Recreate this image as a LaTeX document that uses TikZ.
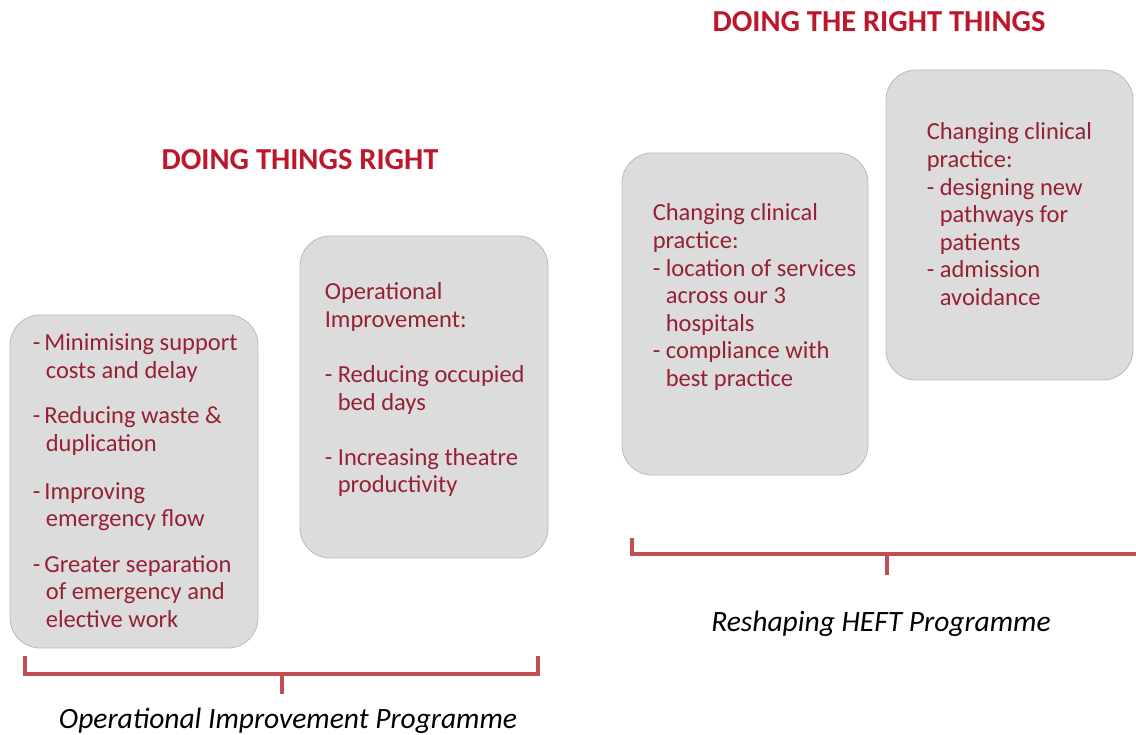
\documentclass[tikz,border=0pt]{standalone}
\usepackage{fontspec}
\setmainfont{Carlito}
\definecolor{TitleRed}{RGB}{190, 22, 42}
\definecolor{ItemMaroon}{RGB}{150, 32, 52}
\definecolor{BracketRed}{RGB}{194, 78, 84}
\definecolor{PanelGrey}{RGB}{220, 220, 220}
\definecolor{PanelEdge}{RGB}{186, 186, 186}
\usetikzlibrary{positioning}
\newcommand{\indnt}{\phantom{- }}

\tikzset{
  panel/.style={draw=PanelEdge, fill=PanelGrey, rounded corners=30pt,
                line width=0.8pt, inner sep=0pt},
  paneltext/.style={text=ItemMaroon, font=\fontsize{24.5}{27.6}\selectfont,
                    align=left, inner sep=0pt},
  heading/.style={text=TitleRed, font=\fontsize{30.5}{34}\selectfont\bfseries},
  progname/.style={font=\fontsize{29.5}{32}\selectfont\itshape},
  bracket/.style={draw=BracketRed, line width=3.6pt}
}

\begin{document}
\begin{tikzpicture}[x=1pt, y=-1pt]
  \useasboundingbox (0,0) rectangle (1136,735);

  % headings
  \node[heading] (rightthings) at (879,22) {DOING THE RIGHT THINGS};
  \node[heading] (thingsright) at (300,160) {DOING THINGS RIGHT};

  % panels
  \node[panel, minimum width=248pt, minimum height=333pt] (support) at (134,481.5) {};
  \node[panel, minimum width=248pt, minimum height=322pt] (opimp) at (424,397) {};
  \node[panel, minimum width=246pt, minimum height=322pt] (location) at (745,314) {};
  \node[panel, minimum width=247pt, minimum height=310pt] (pathways) at (1009.5,225) {};

  \node[paneltext, below right=19pt and 23pt of support.north west] (supporttext) {
    -\,Minimising support\\
    \indnt costs and delay\\[18pt]
    -\,Reducing waste \&\\
    \indnt duplication\\[20pt]
    -\,Improving\\
    \indnt emergency flow\\[18pt]
    -\,Greater separation\\
    \indnt of emergency and\\
    \indnt elective work
  };
  \node[paneltext, below right=47pt and 25pt of opimp.north west] (opimptext) {
    Operational\\
    Improvement:\\[27.5pt]
    - Reducing occupied\\
    \indnt bed days\\[27.5pt]
    - Increasing theatre\\
    \indnt productivity
  };
  \node[paneltext, below right=51pt and 31pt of location.north west] (locationtext) {
    Changing clinical\\
    practice:\\
    - location of services\\
    \indnt across our 3\\
    \indnt hospitals\\
    - compliance with\\
    \indnt best practice
  };
  \node[paneltext, below right=53pt and 41pt of pathways.north west] (pathwaystext) {
    Changing clinical\\
    practice:\\
    - designing new\\
    \indnt pathways for\\
    \indnt patients\\
    - admission\\
    \indnt avoidance
  };

  % programme brackets
  \coordinate (opl) at (25,656);
  \coordinate (opr) at (538,656);
  \coordinate (opmid) at (282,674);
  \draw[bracket] (opl) |- (opr |- opmid) -- (opr);
  \draw[bracket] (opmid) -- ++(0,20);
  \node[progname] (opprog) at (288,721) {Operational Improvement Programme};

  \coordinate (rsl) at (632,538);
  \coordinate (rsr) at (1136,554);
  \coordinate (rsmid) at (887,554);
  \draw[bracket] (rsl) |- (rsr);
  \draw[bracket] (rsmid) -- ++(0,21);
  \node[progname] (rsprog) at (881,624) {Reshaping HEFT Programme};
\end{tikzpicture}
\end{document}
